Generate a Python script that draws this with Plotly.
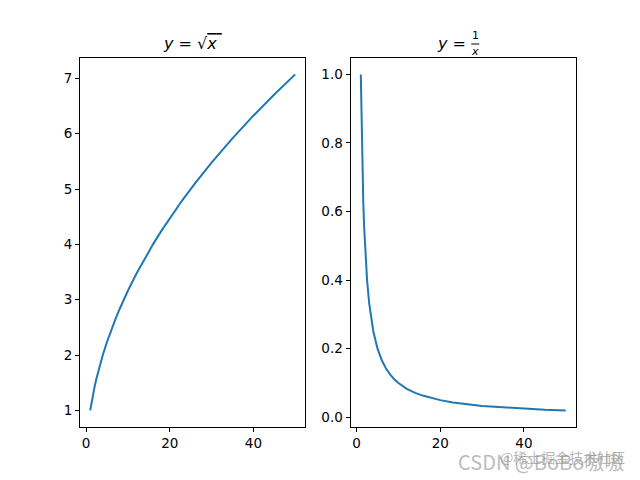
import plotly.graph_objects as go
from plotly.subplots import make_subplots

# Values
x_vals = [1, 1.2, 1.4, 1.6, 1.8, 2, 2.5, 3, 3.5, 4, 5, 6, 7, 8, 9, 10, 12, 14, 16, 18,
          20, 23, 26, 30, 35, 40, 45, 50]
sqrt_vals = [1.0, 1.095, 1.183, 1.265, 1.342, 1.414, 1.581, 1.732, 1.871, 2.0, 2.236,
             2.449, 2.646, 2.828, 3.0, 3.162, 3.464, 3.742, 4.0, 4.243, 4.472, 4.796,
             5.099, 5.477, 5.916, 6.325, 6.708, 7.071]
inv_vals = [1.0, 0.833, 0.714, 0.625, 0.556, 0.5, 0.4, 0.333, 0.286, 0.25, 0.2, 0.167,
            0.143, 0.125, 0.111, 0.1, 0.083, 0.071, 0.0625, 0.056, 0.05, 0.043, 0.038,
            0.033, 0.029, 0.025, 0.022, 0.02]
left_yticks = [1, 2, 3, 4, 5, 6, 7]
right_yticks = [0.0, 0.2, 0.4, 0.6, 0.8, 1.0]
x_ticks = [0, 20, 40]

W, H = 640, 480
fig = make_subplots(rows=1, cols=2)

color = "#1f77b4"
fig.add_trace(go.Scatter(x=x_vals, y=sqrt_vals, mode="lines",
                         line=dict(color=color, width=2), showlegend=False), 1, 1)
fig.add_trace(go.Scatter(x=x_vals, y=inv_vals, mode="lines",
                         line=dict(color=color, width=2), showlegend=False), 1, 2)

ax_w = 0.775 / 2.2
gap = 0.775 * 0.2 / 2.2
x1 = [0.125, 0.125 + ax_w]
x2 = [0.125 + ax_w + gap, 0.9]

axis_common = dict(showgrid=False, zeroline=False, showline=True, mirror=True,
                   linecolor="black", linewidth=1, ticks="outside", ticklen=4,
                   tickwidth=1, tickcolor="black",
                   tickfont=dict(family="DejaVu Sans", size=13.5, color="black"))

xr = [1 - 0.05 * 49, 50 + 0.05 * 49]
fig.update_layout(
    width=W, height=H, plot_bgcolor="white", paper_bgcolor="white",
    margin=dict(l=0, r=0, t=0, b=0),
    xaxis=dict(domain=x1, range=xr, tickvals=x_ticks, **axis_common),
    xaxis2=dict(domain=x2, range=xr, tickvals=x_ticks, **axis_common),
    yaxis=dict(domain=[0.11, 0.88], range=[1 - 0.05 * 6.071, 7.071 + 0.05 * 6.071],
               tickvals=left_yticks, **axis_common),
    yaxis2=dict(domain=[0.11, 0.88], range=[0.02 - 0.049, 1.0 + 0.049],
                tickvals=right_yticks, tickformat=".1f", **axis_common),
)

title_font = dict(family="DejaVu Sans", size=16, color="black")
fig.add_annotation(text="<i>y</i> = √<span style='text-decoration:overline'><i>x</i> </span>",
                   x=(x1[0] + x1[1]) / 2, y=0.88, xref="paper", yref="paper",
                   xanchor="center", yanchor="bottom", yshift=3, showarrow=False,
                   font=title_font)

# right title: "y =" followed by a stacked fraction 1/x
cx2 = (x2[0] + x2[1]) / 2
fig.add_annotation(text="<i>y</i> =", x=cx2 + 5 / W, y=0.88, xref="paper", yref="paper",
                   xanchor="right", yanchor="bottom", yshift=3, showarrow=False,
                   font=title_font)
frac_font = dict(family="DejaVu Sans", size=11, color="black")
fx = cx2 + 12 / W
bar_y = 1 - 44 / H
fig.add_annotation(text="1", x=fx, y=bar_y, xref="paper", yref="paper",
                   xanchor="center", yanchor="bottom", yshift=0, showarrow=False,
                   font=frac_font)
fig.add_annotation(text="<i>x</i>", x=fx, y=bar_y, xref="paper", yref="paper",
                   xanchor="center", yanchor="top", yshift=1, showarrow=False,
                   font=frac_font)
fig.add_shape(type="line", xref="paper", yref="paper", x0=fx - 4 / W, x1=fx + 4 / W,
              y0=bar_y, y1=bar_y, line=dict(color="black", width=1))

# watermark (two overlapping texts, as in the reference)
fig.add_annotation(text="CSDN @BoBo嗷嗷", x=626 / W, y=1 - 461 / H, xref="paper",
                   yref="paper", xanchor="right", yanchor="middle", showarrow=False,
                   font=dict(family="Noto Sans CJK SC", size=20, color="rgba(175,175,175,0.85)"))
fig.add_annotation(text="@稀土掘金技术社区", x=627 / W, y=1 - 457 / H, xref="paper",
                   yref="paper", xanchor="right", yanchor="middle", showarrow=False,
                   font=dict(family="Noto Sans CJK SC", size=14, color="rgba(150,150,150,0.7)"))

fig.write_html("out.html", config={"displayModeBar": False},
               post_script="document.body.style.margin='0';document.body.style.overflow='hidden';")
